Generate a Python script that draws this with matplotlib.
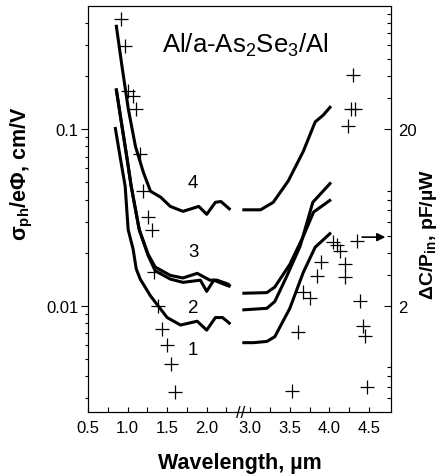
import numpy as np
import matplotlib
matplotlib.use('Agg')
import matplotlib.pyplot as plt
from matplotlib import ticker

plt.rcParams['font.family'] = ['Liberation Sans', 'DejaVu Sans']
plt.rcParams['mathtext.default'] = 'regular'

# broken wavelength axis: values between B1 and B2 are squeezed out
B1, B2 = 2.43, 2.88
G, EPS = B2 - B1, 1e-3

def fwd(x):
    x = np.asarray(x, float)
    return np.where(x < B1, x, np.where(x > B2, x - G*(1-EPS), B1 + (x-B1)*EPS))

def inv(d):
    d = np.asarray(d, float)
    return np.where(d < B1, d, np.where(d > B1 + G*EPS, d + G*(1-EPS), B1 + (d-B1)/EPS))

# photoconductivity curves (left axis), short and long wavelength parts
wl4a = [0.856, 0.93, 1.01, 1.10, 1.20, 1.29, 1.42, 1.54, 1.70, 1.90, 2.0, 2.11, 2.18, 2.30]
s4a = [0.39, 0.227, 0.130, 0.080, 0.057, 0.0446, 0.0412, 0.0366, 0.0343, 0.0366, 0.033, 0.0386, 0.039, 0.035]
wl3a = [0.856, 0.93, 0.995, 1.046, 1.148, 1.26, 1.35, 1.54, 1.70, 1.88, 2.04, 2.13, 2.27, 2.30]
s3a = [0.17, 0.104, 0.0677, 0.0476, 0.027, 0.0196, 0.0166, 0.0149, 0.0144, 0.0153, 0.0140, 0.0140, 0.0133, 0.0129]
wl2a = [0.856, 0.93, 0.995, 1.046, 1.148, 1.26, 1.35, 1.54, 1.70, 1.92, 2.0, 2.09, 2.27, 2.30]
s2a = [0.17, 0.104, 0.0677, 0.0476, 0.027, 0.0193, 0.0158, 0.0142, 0.0136, 0.0140, 0.0121, 0.0140, 0.0130, 0.0129]
wl1a = [0.843, 0.905, 0.97, 1.008, 1.07, 1.11, 1.16, 1.29, 1.50, 1.67, 1.88, 2.0, 2.11, 2.2, 2.3]
s1a = [0.103, 0.0703, 0.0476, 0.027, 0.021, 0.0162, 0.0142, 0.0114, 0.0086, 0.0078, 0.0082, 0.0073, 0.0086, 0.0086, 0.0079]

wl4b = [2.9, 3.13, 3.29, 3.48, 3.67, 3.82, 3.92, 4.02]
s4b = [0.035, 0.035, 0.0386, 0.051, 0.075, 0.11, 0.12, 0.135]
wl3b = [2.9, 3.21, 3.31, 3.5, 3.67, 3.8, 4.02]
s3b = [0.0118, 0.0119, 0.0128, 0.0172, 0.0248, 0.034, 0.040]
wl2b = [2.9, 3.21, 3.31, 3.46, 3.63, 3.79, 4.02]
s2b = [0.0095, 0.0097, 0.0106, 0.0147, 0.0218, 0.0386, 0.050]
wl1b = [2.9, 3.04, 3.21, 3.31, 3.5, 3.67, 3.82, 4.02]
s1b = [0.0062, 0.0062, 0.0063, 0.0067, 0.0097, 0.0155, 0.0215, 0.026]

# capacitance points (right axis)
wl_c = [0.92, 0.97, 1.01, 1.07, 1.11, 1.16, 1.20, 1.26, 1.31, 1.34, 1.39, 1.44, 1.50, 1.555, 1.605,
        4.30, 4.27, 4.32, 4.24, 4.05, 4.10, 4.13, 4.35, 3.895, 3.845, 4.2, 4.2, 3.67, 3.76, 4.39,
        3.605, 4.43, 4.45, 3.53, 4.48]
dc = [84, 59, 33, 31, 26, 14.4, 9.0, 6.4, 5.4, 3.1, 2.0, 1.48, 1.2, 0.94, 0.65,
      40.4, 25.9, 25.9, 20.8, 4.6, 4.4, 4.1, 4.65, 3.53, 2.95, 3.44, 2.9, 2.39, 2.21, 2.13,
      1.42, 1.54, 1.35, 0.66, 0.70]

fig = plt.figure(figsize=(4.42, 4.77), dpi=100)
ax = fig.add_axes([0.199, 0.134, 0.686, 0.851])
ax.set_xscale('function', functions=(fwd, inv))
ax.set_yscale('log')

for wl, s in [(wl4a, s4a), (wl3a, s3a), (wl2a, s2a), (wl1a, s1a),
              (wl4b, s4b), (wl3b, s3b), (wl2b, s2b), (wl1b, s1b)]:
    ax.plot(wl, s, color='black', lw=2.2, solid_capstyle='butt')

ax.set_xlim(0.5, 4.78)
ax.set_ylim(0.00251, 0.497)
ax.xaxis.set_major_locator(ticker.FixedLocator([0.5, 1.0, 1.5, 2.0, 3.0, 3.5, 4.0, 4.5]))
ax.xaxis.set_minor_locator(ticker.FixedLocator([0.75, 1.25, 1.75, 2.25, 3.25, 3.75, 4.25]))
ax.xaxis.set_major_formatter(ticker.FormatStrFormatter('%.1f'))
ax.yaxis.set_major_formatter(ticker.FormatStrFormatter('%g'))
ax.yaxis.set_minor_formatter(ticker.NullFormatter())
ax.tick_params(axis='x', which='both', direction='in', length=3.5, width=0.8, labelsize=12, pad=6)
ax.tick_params(axis='y', which='major', direction='out', length=5, width=0.8, labelsize=12, pad=2)
ax.tick_params(axis='y', which='minor', direction='out', length=2.5, width=0.8)

ax2 = ax.twinx()
ax2.set_yscale('log')
ax2.set_ylim(0.00251*200, 0.497*200)
ax2.plot(wl_c, dc, ls='none', marker='+', ms=10, mew=0.9, color='black')
ax2.yaxis.set_major_locator(ticker.FixedLocator([2, 20]))
ax2.yaxis.set_major_formatter(ticker.FormatStrFormatter('%g'))
ax2.yaxis.set_minor_formatter(ticker.NullFormatter())
ax2.tick_params(axis='y', which='major', direction='in', length=5, width=0.8, labelsize=12, pad=5)
ax2.tick_params(axis='y', which='minor', direction='in', length=3, width=0.8)

ax.set_xlabel('Wavelength, µm', fontsize=15.5, fontweight='bold', labelpad=12)
ax.set_ylabel('σ$_{ph}$/eΦ, cm/V', fontsize=15.5, fontweight='bold')
ax.yaxis.set_label_coords(-0.175, 0.59)
ax2.set_ylabel('ΔC/P$_{in}$, pF/µW', fontsize=14, fontweight='bold', rotation=90)
ax2.yaxis.set_label_coords(1.088, 0.44)

ax.text(0.518, 0.887, 'Al/a-As$_2$Se$_3$/Al', transform=ax.transAxes, fontsize=18.5,
        ha='center', va='baseline')
for lab, yv in [('4', 0.05), ('3', 0.0204), ('2', 0.00985), ('1', 0.0057)]:
    ax.text(1.83, yv, lab, fontsize=13.5, ha='center', va='center')

ax.text(B1, 0.0, '//', transform=ax.get_xaxis_transform(), fontsize=12,
        ha='center', va='center')
ax.annotate('', xy=(0.99, 0.431), xytext=(0.895, 0.431), xycoords='axes fraction',
            arrowprops=dict(arrowstyle='-|>', color='black', lw=1.2, mutation_scale=12))

fig.savefig('out.png', dpi=100)
